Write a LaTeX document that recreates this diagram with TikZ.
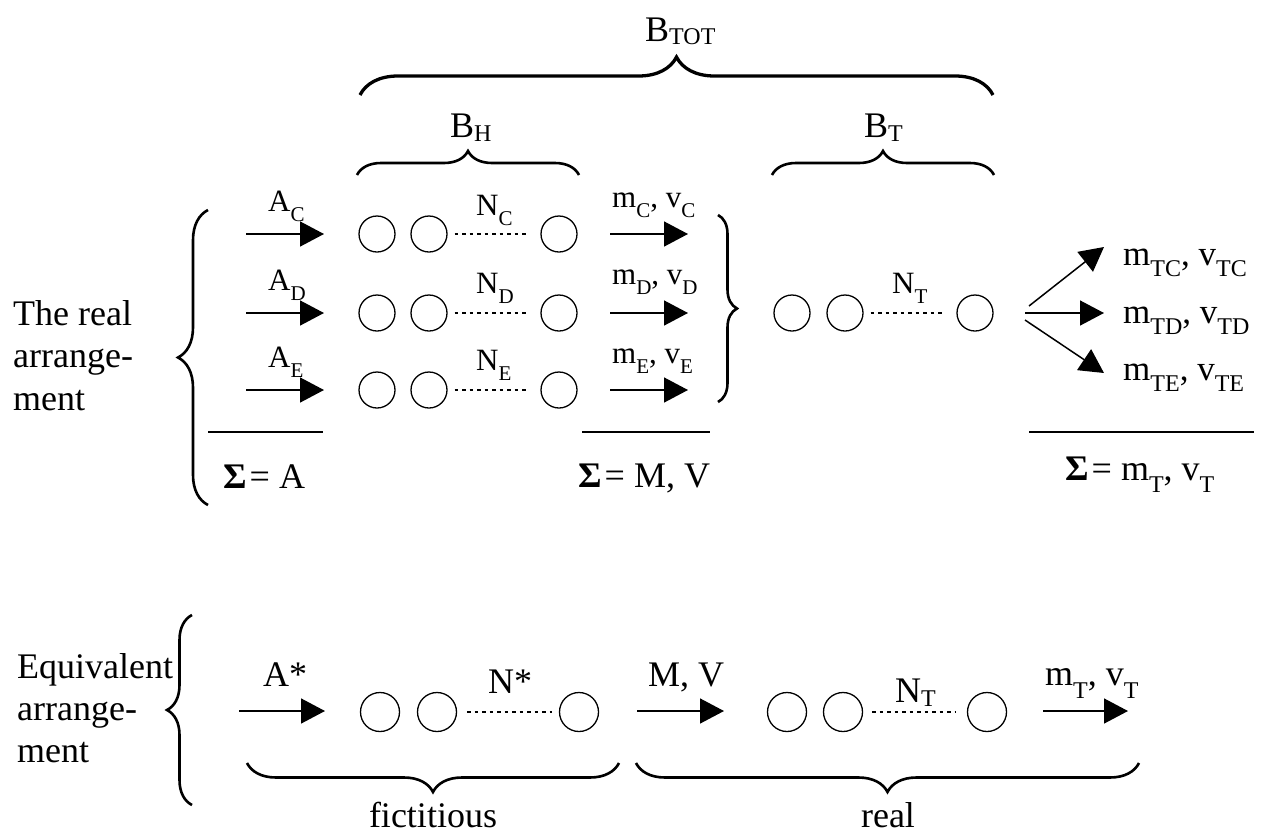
\documentclass[tikz,border=0pt]{standalone}
\usepackage{fontspec}
\setmainfont{Liberation Serif}
\usetikzlibrary{arrows.meta,decorations.pathreplacing}
\newcommand{\ssb}[2]{\raisebox{-#1pt}{\fontsize{21}{21}\selectfont #2}}
\newcommand{\bsb}[2]{\raisebox{-#1pt}{\fontsize{24}{24}\selectfont #2}}
\newcommand{\Sig}{\textbf{Σ}\hspace{3pt}=\ }
\begin{document}
\begin{tikzpicture}[x=1pt,y=-1pt,
  lab/.style={font=\fontsize{31}{31}\selectfont, inner sep=0pt, anchor=base west},
  txt/.style={font=\fontsize{36}{42}\selectfont, inner sep=0pt, anchor=base west},
  ctxt/.style={font=\fontsize{36}{42}\selectfont, inner sep=0pt, anchor=base},
  ball/.style={circle, draw, line width=1.3pt, minimum size=36pt, inner sep=0pt},
  bball/.style={ball, minimum size=39pt},
  flow/.style={line width=1.5pt, -{Triangle[length=24pt,width=25pt]}},
  chain/.style={line width=1.3pt, dash pattern=on 3.5pt off 4pt, shorten <=7pt, shorten >=11pt},
  sumline/.style={line width=1.5pt},
  brc/.style={line width=2.6pt, decorate, decoration={brace, amplitude=#1}}]
\useasboundingbox (0,0) rectangle (1270,836);

% ---------- top braces ----------
\coordinate (totL) at (360,95);  \coordinate (totR) at (993,95);
\draw[brc=38, line width=3.3pt] (totL) -- (totR);
\node[txt] (btot) at (645,41) {B\bsb{3}{TOT}};
\coordinate (bhL) at (357,175);  \coordinate (bhR) at (579,175);
\draw[brc=24] (bhL) -- (bhR);
\node[txt] (bh) at (450,137) {B\bsb{4}{H}};
\coordinate (btL) at (772,175);  \coordinate (btR) at (994,175);
\draw[brc=24] (btL) -- (btR);
\node[txt] (bt) at (864,137) {B\bsb{4}{T}};

% ---------- real arrangement label & brace ----------
\node[txt] (real1) at (13,325) {The real};
\node[txt] (real2) at (13,367) {arrange-};
\node[txt] (real3) at (13,410) {ment};
\coordinate (lbB) at (208,505); \coordinate (lbT) at (208,210);
\draw[brc=30] (lbB) -- (lbT);

% ---------- three rows ----------
\foreach \r/\y/\ya/\yn/\ym in {C/234/211/215/207, D/313/290/293/284, E/390/367/370/363}{
  \coordinate (ain\r) at (246,\y); \coordinate (aout\r) at (324,\y);
  \draw[flow] (ain\r) -- (aout\r);
  \node[lab] (la\r) at (268,\ya) {A\ssb{10}{\r}};
  \node[ball] (c1\r) at (377,\y) {};
  \node[ball] (c2\r) at (429,\y) {};
  \node[ball] (c3\r) at (559,\y) {};
  \draw[chain] (c2\r) -- (c3\r);
  \node[lab] (ln\r) at (476,\yn) {N\ssb{10}{\r}};
  \coordinate (min\r) at (610,\y); \coordinate (mout\r) at (688,\y);
  \draw[flow] (min\r) -- (mout\r);
  \node[lab] (lm\r) at (612,\ym) {m\ssb{10}{\r}, v\ssb{10}{\r}};
}
\coordinate (rbT) at (718,215); \coordinate (rbB) at (718,402);
\draw[brc=19] (rbT) -- (rbB);

% ---------- N_T row ----------
\node[ball] (t1) at (792,313) {};
\node[ball] (t2) at (845,313) {};
\node[ball] (t3) at (975,313) {};
\draw[chain] (t2) -- (t3);
\node[lab] (lnt) at (892,293) {N\ssb{10}{T}};

% ---------- fan ----------
\coordinate (f1s) at (1029,306); \coordinate (f1e) at (1104,247);
\coordinate (f2s) at (1025,313); \coordinate (f2e) at (1104,313);
\coordinate (f3s) at (1025,320); \coordinate (f3e) at (1104,373);
\draw[flow] (f1s) -- (f1e);
\draw[flow] (f2s) -- (f2e);
\draw[flow] (f3s) -- (f3e);
\node[txt, font=\fontsize{35}{35}\selectfont] (ftc) at (1123,265) {m\bsb{11}{TC}, v\bsb{11}{TC}};
\node[txt, font=\fontsize{35}{35}\selectfont] (ftd) at (1123,323) {m\bsb{11}{TD}, v\bsb{11}{TD}};
\node[txt, font=\fontsize{35}{35}\selectfont] (fte) at (1123,380) {m\bsb{11}{TE}, v\bsb{11}{TE}};

% ---------- sums ----------
\coordinate (s1a) at (208,432); \coordinate (s1b) at (323,432);
\coordinate (s2a) at (582,432); \coordinate (s2b) at (710,432);
\coordinate (s3a) at (1029,432); \coordinate (s3b) at (1254,432);
\draw[sumline] (s1a) -- (s1b);
\draw[sumline] (s2a) -- (s2b);
\draw[sumline] (s3a) -- (s3b);
\node[txt] (sumA) at (223,488) {\Sig A};
\node[txt] (sumM) at (578,487) {\Sig M, V};
\node[txt] (sumT) at (1065,480) {\Sig m\bsb{12}{T}, v\bsb{12}{T}};

% ---------- equivalent arrangement ----------
\node[txt] (eq1) at (17,678) {Equivalent};
\node[txt] (eq2) at (17,720) {arrange-};
\node[txt] (eq3) at (17,762) {ment};
\coordinate (ebB) at (192,805); \coordinate (ebT) at (192,615);
\draw[brc=25] (ebB) -- (ebT);

\coordinate (astA) at (239,711); \coordinate (astB) at (325,711);
\draw[flow] (astA) -- (astB);
\node[txt] (lastar) at (263,686) {A*};
\node[bball] (e1) at (380,712) {};
\node[bball] (e2) at (437,712) {};
\node[bball] (e3) at (579,712) {};
\draw[chain, shorten <=10pt, shorten >=7pt] (e2) -- (e3);
\node[txt] (lnstar) at (488,693) {N*};

\coordinate (mvA) at (637,711); \coordinate (mvB) at (724,711);
\draw[flow] (mvA) -- (mvB);
\node[txt] (lmv) at (648,686) {M, V};
\node[bball] (g1) at (787,712) {};
\node[bball] (g2) at (843,712) {};
\node[bball] (g3) at (987,712) {};
\draw[chain, shorten <=9pt, shorten >=12pt] (g2) -- (g3);
\node[txt] (lnt2) at (895,702) {N\bsb{4}{T}};

\coordinate (mtA) at (1043,711); \coordinate (mtB) at (1128,711);
\draw[flow] (mtA) -- (mtB);
\node[txt] (lmt) at (1045,685) {m\bsb{13}{T}, v\bsb{13}{T}};

\coordinate (fiR) at (619,763); \coordinate (fiL) at (247,763);
\draw[brc=29] (fiR) -- (fiL);
\node[ctxt] (fict) at (433,827) {fictitious};
\coordinate (reR) at (1139,763); \coordinate (reL) at (636,763);
\draw[brc=29] (reR) -- (reL);
\node[ctxt] (reallbl) at (888,827) {real};
\end{tikzpicture}
\end{document}
